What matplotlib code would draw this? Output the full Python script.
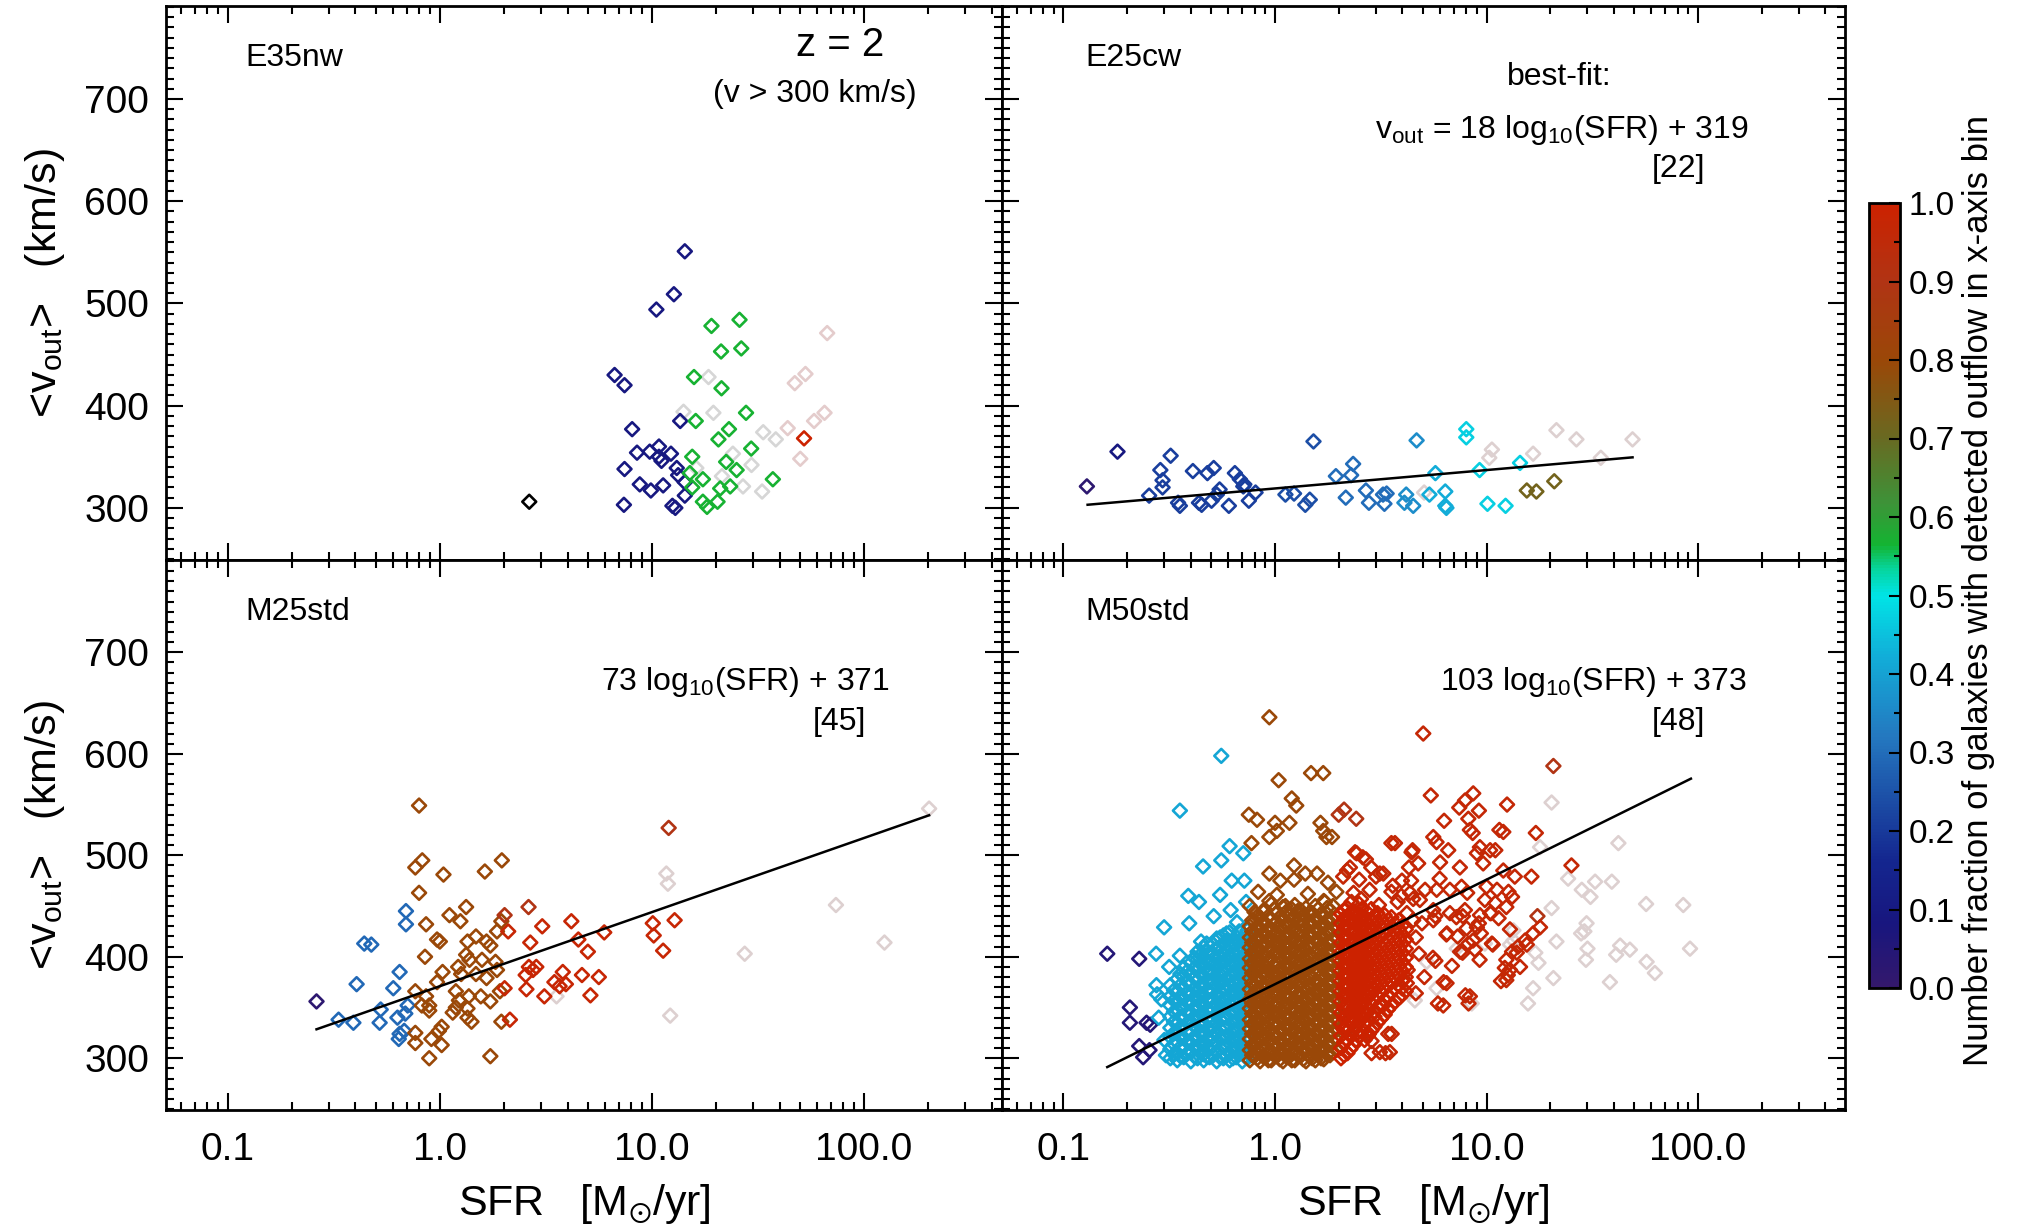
import numpy as np
import matplotlib
matplotlib.use('Agg')
import matplotlib.pyplot as plt
from matplotlib.colors import LinearSegmentedColormap, Normalize
from matplotlib.cm import ScalarMappable
from matplotlib.ticker import LogLocator, MultipleLocator, NullFormatter

plt.rcParams['font.family'] = ['Liberation Sans', 'DejaVu Sans']
plt.rcParams['mathtext.fontset'] = 'custom'
plt.rcParams['mathtext.rm'] = 'Liberation Sans'
plt.rcParams['mathtext.it'] = 'Liberation Sans:italic'
plt.rcParams['mathtext.default'] = 'regular'

# ---------------- datos (SFR [Msun/yr], <v_out> [km/s]) ----------------
x_tick_vals = [0.1, 1, 10, 100]
x_tick_labels = ['0.1', '1.0', '10.0', '100.0']
y_tick_vals = [300, 400, 500, 600, 700]
cbar_ticks = [0.0, 0.1, 0.2, 0.3, 0.4, 0.5, 0.6, 0.7, 0.8, 0.9, 1.0]

# E35nw (arriba izquierda)
e35_black = [(2.64, 306)]
e35_navy = [(14.3, 551), (12.7, 509), (10.5, 494), (6.67, 430), (7.43, 420), (8.07, 377),
            (13.6, 385), (8.51, 354), (9.77, 355), (10.8, 360), (12.3, 353), (10.8, 350),
            (11.1, 346), (7.43, 338), (13.1, 339), (13.3, 332), (8.77, 323), (9.89, 317),
            (11.3, 322), (14.3, 325), (14.3, 312), (7.38, 303), (12.5, 302), (12.9, 300)]
e35_green = [(19.1, 478), (25.9, 484), (21.2, 453), (26.4, 456), (15.8, 428), (21.3, 417),
             (27.8, 393), (16.1, 385), (23.1, 377), (20.6, 367), (29.4, 358), (15.5, 350),
             (22.4, 345), (25.1, 337), (15.1, 334), (17.4, 328), (37.2, 328), (15.5, 320),
             (21.0, 319), (23.4, 321), (17.4, 306), (20.4, 306), (18.2, 301)]
e35_gray = [(14.1, 394), (19.5, 393), (18.5, 428), (33.5, 374), (38.4, 367), (24.1, 353),
            (29.5, 342), (21.4, 331), (26.9, 321), (33.1, 316), (16.2, 339)]
e35_pink = [(67.1, 471), (53.0, 431), (47.2, 422), (65.2, 393), (58.2, 385), (43.7, 378),
            (50.1, 348)]
e35_red = [(52.2, 368)]

# E25cw (arriba derecha)
e25_indigo = [(0.129, 321)]
e25_navy = [(0.18, 355)]
e25_blue1 = [(0.254, 312), (0.321, 351), (0.287, 337), (0.294, 327), (0.294, 320), (0.348, 305),
             (0.355, 302), (0.409, 336), (0.479, 334), (0.513, 339), (0.437, 305), (0.45, 303),
             (0.501, 307), (0.531, 313), (0.547, 318), (0.605, 302), (0.646, 334), (0.682, 328),
             (0.708, 321), (0.716, 323), (0.752, 307), (0.809, 315)]
e25_blue2 = [(1.12, 313), (1.23, 314), (1.39, 303), (1.46, 308), (1.52, 365)]
e25_blue3 = [(1.94, 331), (2.29, 332), (2.34, 343), (2.16, 310), (2.69, 317), (2.78, 305),
             (3.24, 313), (3.29, 304), (3.37, 314)]
e25_blue4 = [(4.17, 313), (4.09, 305), (4.5, 302), (4.67, 366)]
e25_lblue = [(5.37, 313), (5.73, 334), (6.38, 316), (6.38, 302), (6.46, 300)]
e25_cyan = [(8.02, 377), (8.02, 369), (9.27, 337), (10.1, 304), (12.3, 302), (14.4, 344)]
e25_olive = [(15.5, 317), (17.2, 316), (20.9, 326)]
e25_pale = [(5.07, 315), (10.3, 349), (10.6, 357), (16.6, 353), (21.4, 376), (26.6, 367),
            (34.7, 349), (49.0, 367)]
e25_fit = (18, 319, 0.13, 49)      # pendiente, ordenada, rango en SFR

# M25std (abajo izquierda)
m25_indigo = [(0.262, 356)]
m25_blue = [(0.333, 338), (0.391, 335), (0.405, 373), (0.44, 413), (0.475, 412), (0.52, 335),
            (0.526, 348), (0.603, 369), (0.646, 385), (0.631, 340), (0.64, 319), (0.679, 327),
            (0.687, 344), (0.705, 352), (0.692, 445), (0.692, 432), (0.646, 324)]
m25_brown = [(0.798, 549), (0.766, 488), (0.826, 495), (0.798, 463), (1.04, 481), (1.63, 484),
             (1.96, 495), (1.33, 449), (1.11, 441), (1.25, 435), (0.861, 432), (0.97, 417),
             (1.0, 415), (0.851, 400), (1.35, 415), (1.48, 420), (1.66, 415), (1.73, 411),
             (1.86, 425), (1.95, 435), (1.33, 402), (1.38, 397), (1.22, 390), (1.58, 397),
             (1.83, 395), (1.03, 385), (1.26, 383), (1.48, 383), (1.66, 379), (1.86, 387),
             (0.97, 375), (0.766, 366), (0.861, 361), (0.891, 352), (1.19, 366), (1.23, 357),
             (1.19, 350), (1.37, 361), (1.35, 349), (1.56, 361), (1.73, 356), (1.92, 366),
             (0.891, 347), (1.15, 345), (1.35, 340), (1.41, 336), (1.02, 331), (0.99, 327),
             (1.95, 336), (0.766, 325), (0.766, 315), (0.912, 319), (1.02, 313), (0.891, 300),
             (1.73, 302), (0.822, 352)]
m25_darkred = [(2.62, 449), (2.02, 441), (12.0, 527)]
m25_red = [(2.10, 425), (3.04, 430), (4.17, 435), (5.96, 424), (4.5, 417), (4.99, 405),
           (2.67, 414), (2.63, 390), (2.75, 387), (2.85, 390), (2.54, 382), (2.02, 369),
           (2.56, 368), (3.11, 361), (3.47, 375), (3.8, 385), (3.93, 373), (3.67, 371),
           (4.68, 382), (5.62, 380), (5.13, 362), (2.14, 338), (10.1, 433), (10.2, 421),
           (12.8, 436), (11.3, 406)]
m25_pale = [(11.7, 482), (11.9, 472), (73.8, 451), (125, 414), (27.4, 403), (12.2, 342),
            (3.55, 361), (203, 546)]
m25_fit = (73, 371, 0.262, 203)

# M50std (abajo derecha): zonas densas transcritas por columnas (SFR, [v...])
m50_navy = [(0.161, 403), (0.228, 398), (0.206, 350), (0.206, 335), (0.247, 335), (0.257, 333),
            (0.228, 312), (0.238, 301), (0.255, 308)]
m50_cyan = [(0.557, 598), (0.355, 544), (0.274, 403), (0.299, 429), (0.393, 433), (0.457, 489),
            (0.557, 495), (0.61, 509), (0.708, 502), (0.389, 460), (0.437, 454), (0.55, 461),
            (0.624, 475), (0.716, 475), (0.617, 446), (0.73, 454), (0.513, 440), (0.661, 434),
            (0.277, 363), (0.316, 390), (0.355, 401), (0.447, 415), (0.275, 372), (0.29, 358),
            (0.282, 340), (0.3, 318), (0.305, 303)]
m50_cyan_cols = [
    (0.32, [300, 309, 321, 330, 341, 352, 361, 372]),
    (0.333, [304, 314, 325, 336, 346, 357, 367]),
    (0.345, [298, 305, 316, 326, 335, 347, 356, 366, 378]),
    (0.357, [302, 311, 321, 331, 341, 351, 361, 372, 383]),
    (0.37, [301, 311, 320, 331, 339, 350, 359, 369, 381, 389]),
    (0.385, [305, 316, 325, 335, 345, 355, 364, 375, 386]),
    (0.40, [297, 306, 315, 327, 336, 345, 355, 364, 373, 384, 394]),
    (0.415, [302, 311, 321, 332, 341, 350, 360, 369, 379, 389, 399]),
    (0.43, [300, 310, 319, 329, 340, 349, 358, 367, 377, 388, 397, 405]),
    (0.445, [305, 315, 324, 334, 344, 354, 363, 372, 383, 393, 402]),
    (0.46, [298, 304, 314, 324, 333, 344, 353, 362, 372, 381, 391, 400, 409]),
    (0.475, [302, 310, 319, 329, 339, 348, 358, 367, 377, 386, 396, 405, 413]),
    (0.49, [301, 309, 318, 328, 337, 347, 357, 366, 375, 386, 394, 404]),
    (0.51, [303, 312, 321, 331, 339, 347, 356, 366, 374, 383, 392, 402, 412]),
    (0.53, [297, 306, 316, 325, 334, 342, 351, 361, 370, 379, 389, 398, 408, 418]),
    (0.55, [301, 310, 320, 329, 338, 347, 355, 365, 374, 383, 392, 401, 410, 419]),
    (0.57, [300, 311, 320, 330, 339, 349, 358, 368, 376, 385, 395, 403, 413, 421]),
    (0.59, [303, 313, 322, 331, 340, 350, 359, 368, 378, 387, 396, 406, 416, 423]),
    (0.61, [298, 305, 315, 323, 333, 343, 353, 362, 371, 381, 391, 400, 410, 424]),
    (0.632, [300, 309, 318, 327, 336, 346, 356, 366, 375, 385, 395, 405, 414]),
    (0.655, [301, 309, 318, 328, 337, 346, 356, 365, 374, 384, 393, 402, 412, 420]),
    (0.677, [304, 313, 322, 331, 341, 350, 359, 369, 378, 388, 397, 406, 416, 425]),
    (0.70, [297, 306, 314, 324, 334, 343, 352, 361, 371, 380, 390, 399, 408, 417]),
    (0.72, [302, 311, 320, 329, 339, 348, 357, 366, 376, 385, 394, 403, 413, 421]),
    (0.74, [300, 310, 319, 329, 338, 348, 357, 367, 377, 386, 395, 405, 415, 426]),
]
m50_brown = [(0.94, 636), (1.48, 581), (1.69, 581), (1.04, 574), (1.2, 556), (1.26, 549),
             (0.752, 540), (0.822, 535), (1.0, 532), (1.17, 532), (1.02, 524), (0.94, 518),
             (0.774, 512), (1.64, 532), (1.69, 524), (1.86, 518), (1.75, 518), (1.23, 490),
             (0.94, 482), (1.06, 475), (1.23, 476), (1.39, 482), (1.58, 482), (0.832, 464),
             (1.02, 461), (1.43, 462), (1.78, 473), (1.95, 464), (0.759, 450), (0.94, 455),
             (1.12, 450), (1.72, 454)]
m50_brown_cols = [
    (0.76, [298, 308, 319, 329, 338, 349, 358, 368, 379, 389, 398, 409, 419, 430]),
    (0.78, [303, 313, 324, 334, 344, 354, 363, 374, 384, 394, 404, 414, 425, 436]),
    (0.80, [302, 313, 323, 333, 343, 353, 363, 373, 384, 393, 403, 413, 424, 435, 444]),
    (0.825, [300, 309, 319, 328, 338, 348, 358, 368, 379, 389, 398, 408, 419, 430, 440]),
    (0.85, [297, 306, 317, 327, 337, 348, 357, 367, 377, 388, 397, 407, 418, 428, 439]),
    (0.875, [302, 312, 322, 332, 342, 353, 362, 372, 383, 393, 402, 412, 423, 434, 445]),
    (0.90, [301, 311, 321, 331, 341, 351, 361, 371, 382, 391, 401, 412, 422, 433, 446]),
    (0.93, [298, 306, 316, 326, 336, 346, 356, 366, 377, 387, 396, 406, 417, 428, 440]),
    (0.96, [298, 307, 318, 328, 339, 348, 359, 369, 378, 387, 398, 408, 417, 427, 437, 452]),
    (0.99, [303, 313, 323, 334, 344, 353, 364, 374, 383, 392, 403, 413, 422, 432, 447]),
    (1.02, [302, 312, 322, 333, 344, 354, 364, 374, 383, 393, 404, 414, 424, 434, 443]),
    (1.055, [299, 307, 317, 328, 339, 349, 359, 369, 378, 388, 399, 409, 419, 429, 439]),
    (1.09, [297, 306, 316, 326, 336, 346, 356, 366, 376, 386, 396, 406, 416, 427, 438, 449]),
    (1.125, [302, 311, 321, 331, 341, 351, 361, 371, 381, 391, 401, 411, 421, 432, 444]),
    (1.16, [301, 311, 320, 331, 341, 352, 361, 372, 381, 391, 401, 411, 421, 431, 441]),
    (1.20, [298, 306, 315, 326, 336, 347, 356, 367, 376, 386, 396, 406, 416, 426, 436, 447]),
    (1.24, [298, 308, 318, 328, 338, 348, 358, 368, 378, 388, 398, 408, 418, 429, 440, 451]),
    (1.28, [303, 313, 323, 333, 343, 353, 363, 373, 383, 393, 403, 413, 423, 434, 445]),
    (1.32, [302, 313, 323, 334, 344, 353, 363, 374, 384, 394, 404, 414, 425, 436, 446]),
    (1.36, [299, 308, 318, 329, 339, 348, 358, 369, 379, 389, 399, 409, 420, 431, 441]),
    (1.40, [297, 307, 317, 326, 336, 347, 357, 367, 377, 387, 397, 407, 417, 427, 438, 448]),
    (1.45, [302, 312, 322, 331, 341, 352, 362, 372, 382, 392, 402, 412, 422, 432, 443]),
    (1.50, [300, 310, 321, 330, 341, 350, 361, 370, 380, 391, 400, 410, 421, 432, 443]),
    (1.55, [298, 305, 315, 325, 335, 345, 355, 365, 375, 385, 395, 405, 416, 427, 438, 450]),
    (1.60, [304, 314, 324, 335, 345, 355, 365, 375, 386, 396, 406, 416, 426, 436, 447]),
    (1.65, [300, 309, 319, 330, 340, 350, 360, 370, 381, 391, 401, 411, 421, 431, 442]),
    (1.70, [299, 309, 319, 329, 339, 349, 359, 369, 379, 389, 399, 409, 419, 430, 441, 455]),
    (1.76, [304, 314, 324, 334, 344, 354, 364, 374, 384, 394, 404, 414, 425, 436, 448]),
    (1.82, [303, 313, 323, 333, 343, 353, 363, 373, 383, 393, 403, 413, 424, 434, 446]),
    (1.88, [306, 316, 326, 336, 346, 356, 366, 376, 386, 396, 406, 416, 427, 437, 450]),
    (1.95, [308, 318, 328, 338, 348, 358, 368, 378, 388, 398, 408, 418, 428, 439]),
]
m50_darkred = [(2.0, 540), (2.12, 545), (2.42, 536), (20.7, 588), (17.4, 440)]
m50_red = [(5.02, 620), (5.45, 559), (8.65, 561), (7.91, 554), (7.43, 547), (12.5, 550),
           (9.2, 544), (6.3, 534), (8.2, 536), (8.34, 525), (8.6, 522), (11.5, 525), (12.0, 523),
           (17.1, 522), (5.6, 518), (5.8, 513), (6.59, 505), (9.3, 508), (9.0, 502), (10.4, 505),
           (11.0, 505), (4.47, 505), (4.75, 492), (4.3, 488), (6.03, 493), (7.48, 488),
           (9.64, 492), (12.0, 485), (13.6, 479), (16.3, 479), (25.2, 490), (4.4, 475),
           (5.12, 466), (6.0, 477), (5.81, 466), (6.71, 466), (7.62, 469), (8.1, 463),
           (10.0, 469), (11.2, 466), (12.7, 464), (13.2, 459), (4.35, 463), (4.84, 456),
           (9.82, 456), (11.0, 453), (12.4, 449), (5.6, 446), (6.71, 443), (7.2, 439),
           (7.9, 446), (9.31, 441), (10.4, 443), (11.4, 438), (4.2, 443), (4.95, 433),
           (5.6, 436), (8.05, 428), (9.2, 433), (17.9, 429), (16.6, 423), (6.5, 423),
           (7.3, 420), (8.63, 416), (9.4, 423), (10.6, 413), (14.1, 410), (15.2, 416),
           (5.58, 399), (7.7, 404), (8.8, 407), (12.4, 397), (13.9, 404), (12.9, 387),
           (14.4, 390), (12.4, 377), (6.47, 374), (8.34, 361), (6.24, 352), (4.2, 374),
           (3.55, 512), (2.39, 503), (2.69, 496), (2.19, 485), (3.13, 482), (3.55, 464),
           (3.98, 475), (3.16, 352), (2.95, 341), (2.32, 334), (2.78, 324), (3.43, 324),
           (2.86, 305), (3.33, 305), (2.19, 327), (3.98, 369), (4.24, 387), (4.63, 364),
           (4.79, 403), (4.5, 436), (4.63, 419), (4.5, 457), (5.89, 354), (5.08, 380),
           (5.73, 396), (6.27, 375), (7.94, 362), (8.22, 354), (6.46, 422), (7.5, 405),
           (6.86, 391), (9.27, 397), (8.22, 413), (10.7, 412), (13.2, 405), (15.5, 412),
           (12.2, 389), (12.6, 382), (11.7, 376), (5.73, 440), (7.73, 440), (10.5, 443),
           (9.0, 429), (12.9, 427), (2.26, 338), (2.43, 325), (2.91, 330), (2.86, 317),
           (3.13, 306), (3.49, 306), (3.24, 352), (3.56, 324), (3.89, 360), (4.04, 378),
           (2.18, 347), (2.33, 363), (2.71, 344), (2.1, 329), (3.69, 512), (4.42, 503),
           (2.43, 502), (2.6, 498), (2.26, 488), (2.85, 488), (2.1, 479), (2.5, 476),
           (3.0, 479), (3.25, 482), (2.35, 463), (2.8, 466), (3.6, 470), (3.95, 460),
           (2.3, 454), (2.55, 457), (3.1, 451), (3.8, 454)]
m50_red_cols = [
    (2.05, [300, 310, 322, 334, 345, 356, 366, 376, 386, 396, 405, 414, 424, 433, 442]),
    (2.12, [303, 316, 328, 340, 350, 361, 371, 381, 391, 401, 410, 419, 429, 438, 446]),
    (2.2, [305, 318, 331, 342, 352, 362, 372, 381, 391, 400, 410, 420, 430, 440, 448]),
    (2.27, [309, 322, 335, 346, 357, 366, 376, 386, 395, 404, 414, 424, 434, 443]),
    (2.35, [313, 327, 339, 350, 360, 369, 379, 388, 398, 407, 416, 426, 436, 445]),
    (2.42, [318, 332, 344, 355, 364, 374, 383, 393, 402, 411, 421, 431, 440]),
    (2.5, [322, 336, 348, 358, 367, 377, 386, 395, 404, 414, 423, 433, 442, 452]),
    (2.57, [326, 341, 352, 362, 371, 381, 390, 399, 409, 418, 428, 437, 447]),
    (2.65, [318, 333, 345, 356, 365, 374, 383, 392, 402, 411, 420, 430, 439]),
    (2.75, [322, 337, 349, 360, 369, 378, 387, 396, 406, 415, 424, 433, 443]),
    (2.85, [327, 342, 354, 364, 372, 381, 390, 400, 409, 418, 428, 437, 447]),
    (2.95, [331, 346, 357, 367, 376, 385, 394, 403, 412, 421, 431, 440]),
    (3.05, [335, 350, 361, 370, 379, 388, 397, 406, 416, 425, 434, 443]),
    (3.17, [339, 354, 365, 374, 383, 392, 401, 410, 420, 429, 438]),
    (3.3, [343, 357, 368, 377, 386, 395, 404, 413, 423, 432, 441]),
    (3.42, [348, 361, 372, 381, 390, 399, 408, 417, 426, 436]),
    (3.55, [352, 365, 375, 384, 393, 402, 411, 420, 430, 439]),
    (3.7, [356, 369, 379, 388, 397, 406, 415, 424, 433]),
    (3.85, [360, 372, 382, 391, 400, 409, 418, 428, 436]),
    (4.0, [363, 376, 386, 395, 404, 413, 422, 431]),
    (4.15, [366, 380, 390, 399, 408, 417, 427]),
]
m50_pale = [(20.3, 552), (42.0, 512), (17.9, 508), (24.3, 477), (28.2, 466), (32.6, 474),
            (39.1, 474), (31.0, 459), (56.8, 452), (85.1, 451), (20.3, 448), (29.7, 433),
            (29.0, 425), (13.4, 426), (13.4, 416), (21.4, 415), (30.0, 408), (42.8, 411),
            (47.6, 407), (41.0, 402), (17.0, 404), (17.6, 394), (91.6, 408), (29.5, 397),
            (57.1, 395), (62.5, 384), (38.3, 375), (20.7, 379), (16.6, 369), (15.7, 354),
            (9.82, 413), (7.23, 408), (5.21, 395), (5.8, 369), (4.58, 357), (8.51, 354),
            (12.9, 412), (28.0, 423)]
m50_fit = (103, 373, 0.161, 92.5)

# --------------- colores ---------------
cmap = LinearSegmentedColormap.from_list('outflow', [
    (0.00, '#34186c'), (0.08, '#18167e'), (0.16, '#14268f'), (0.24, '#1c4ea6'),
    (0.32, '#2478c0'), (0.42, '#12acd8'), (0.50, '#00e4e6'), (0.535, '#06d49a'),
    (0.565, '#14b432'), (0.62, '#3e9238'), (0.70, '#686a22'), (0.80, '#9a4808'),
    (0.90, '#b03414'), (1.00, '#cc2200')])
pale_gray = '#d6d6d6'
pale_pink = '#e4cccc'
pale = '#ddd0d0'


def expand(cols):
    return [(s, v) for s, vs in cols for v in vs]


panels = [
    ('E35nw', [(pale_gray, e35_gray), (pale_pink, e35_pink), (0.09, e35_navy),
               (0.57, e35_green), (1.0, e35_red), ('black', e35_black)], None),
    ('E25cw', [(pale, e25_pale), (0.02, e25_indigo), (0.09, e25_navy), (0.21, e25_blue1),
               (0.24, e25_blue2), (0.3, e25_blue3), (0.36, e25_blue4), (0.42, e25_lblue),
               (0.47, e25_cyan), (0.72, e25_olive)], e25_fit),
    ('M25std', [(pale, m25_pale), (0.02, m25_indigo), (0.29, m25_blue), (0.8, m25_brown),
                (0.9, m25_darkred), (0.98, m25_red)], m25_fit),
    ('M50std', [(pale, m50_pale), (0.05, m50_navy), (0.41, m50_cyan), (0.41, expand(m50_cyan_cols)),
                (0.8, m50_brown), (0.8, expand(m50_brown_cols)), (0.9, m50_darkred),
                (0.97, m50_red), (1.0, expand(m50_red_cols))], m50_fit),
]

# --------------- figura ---------------
W, H = 2019, 1226
fig = plt.figure(figsize=(W / 100, H / 100), dpi=100)
boxes = [(166, 6, 1002, 560), (1002, 6, 1845, 560), (166, 560, 1002, 1110), (1002, 560, 1845, 1110)]
xlims = [(0.0511, 448), (0.0512, 495), (0.0511, 448), (0.0512, 495)]
axes = []
for (x0, y0, x1, y1) in boxes:
    axes.append(fig.add_axes([x0 / W, 1 - y1 / H, (x1 - x0) / W, (y1 - y0) / H]))

for i, (ax, (name, groups, fit)) in enumerate(zip(axes, panels)):
    for col, pts in groups:
        c = cmap(col) if isinstance(col, float) else col
        xs = [p[0] for p in pts]
        ys = [p[1] for p in pts]
        ax.scatter(xs, ys, marker='D', s=50, facecolors='none', edgecolors=[c], linewidths=1.9, zorder=2)
    if fit is not None:
        a, b, s0, s1 = fit
        xx = np.array([s0, s1])
        ax.plot(xx, a * np.log10(xx) + b, color='black', lw=1.8, zorder=3)

    ax.set_xscale('log')
    ax.set_xlim(xlims[i])
    ax.set_ylim(249, 791)
    ax.set_xticks(x_tick_vals)
    ax.set_xticklabels(x_tick_labels)
    ax.xaxis.set_minor_locator(LogLocator(base=10, subs=np.arange(2, 10), numticks=20))
    ax.xaxis.set_minor_formatter(NullFormatter())
    ax.set_yticks(y_tick_vals)
    ax.yaxis.set_minor_locator(MultipleLocator(10))
    ax.tick_params(which='both', direction='in', top=True, right=True, width=1.5)
    ax.tick_params(which='major', length=12, labelsize=28)
    ax.tick_params(which='minor', length=6)
    ax.tick_params(axis='x', pad=16)
    ax.tick_params(axis='y', pad=12)
    ax.tick_params(labelbottom=(i >= 2), labelleft=(i % 2 == 0))
    for sp in ax.spines.values():
        sp.set_linewidth(2)
    xl = 0.0945 if i % 2 == 0 else 0.0985
    ax.text(xl, 0.906, name, transform=ax.transAxes, fontsize=23, ha='left', va='center')

# textos de cada panel
axes[0].text(0.806, 0.930, 'z = 2', transform=axes[0].transAxes, fontsize=29, ha='center', va='center')
axes[0].text(0.776, 0.841, '(v > 300 km/s)', transform=axes[0].transAxes, fontsize=23, ha='center', va='center')
axes[1].text(0.661, 0.872, 'best-fit:', transform=axes[1].transAxes, fontsize=23, ha='center', va='center')
axes[1].text(0.664, 0.776, r'v$_{out}$ = 18 log$_{10}$(SFR) + 319', transform=axes[1].transAxes,
             fontsize=23, ha='center', va='center')
axes[1].text(0.802, 0.706, '[22]', transform=axes[1].transAxes, fontsize=23, ha='center', va='center')
axes[2].text(0.693, 0.778, r'73 log$_{10}$(SFR) + 371', transform=axes[2].transAxes,
             fontsize=23, ha='center', va='center')
axes[2].text(0.805, 0.705, '[45]', transform=axes[2].transAxes, fontsize=23, ha='center', va='center')
axes[3].text(0.702, 0.778, r'103 log$_{10}$(SFR) + 373', transform=axes[3].transAxes,
             fontsize=23, ha='center', va='center')
axes[3].text(0.802, 0.705, '[48]', transform=axes[3].transAxes, fontsize=23, ha='center', va='center')

# etiquetas de ejes
for yc in (283, 835):
    fig.text(45 / W, 1 - yc / H, r'<v$_{out}$>   (km/s)', rotation=90, fontsize=31, ha='center', va='center')
for xc in (584, 1423):
    fig.text(xc / W, 1 - 1215 / H, r'SFR   [M$_{\odot}$/yr]', fontsize=31, ha='center', va='baseline')

# barra de color
cax = fig.add_axes([1869 / W, 1 - 988 / H, 31 / W, 785 / H])
cb = fig.colorbar(ScalarMappable(norm=Normalize(0, 1), cmap=cmap), cax=cax)
cb.set_ticks(cbar_ticks)
cb.set_ticklabels(['%.1f' % t for t in cbar_ticks])
cax.yaxis.set_minor_locator(MultipleLocator(0.05))
cax.tick_params(which='both', direction='in', right=True, left=False, width=1.5, labelsize=24, pad=6)
cax.tick_params(which='major', length=8)
cax.tick_params(which='minor', length=4)
cb.outline.set_linewidth(2)
fig.text(1978 / W, 1 - 591 / H, 'Number fraction of galaxies with detected outflow in x-axis bin',
         rotation=90, fontsize=25, ha='center', va='center')

fig.savefig('out.png', dpi=100)
